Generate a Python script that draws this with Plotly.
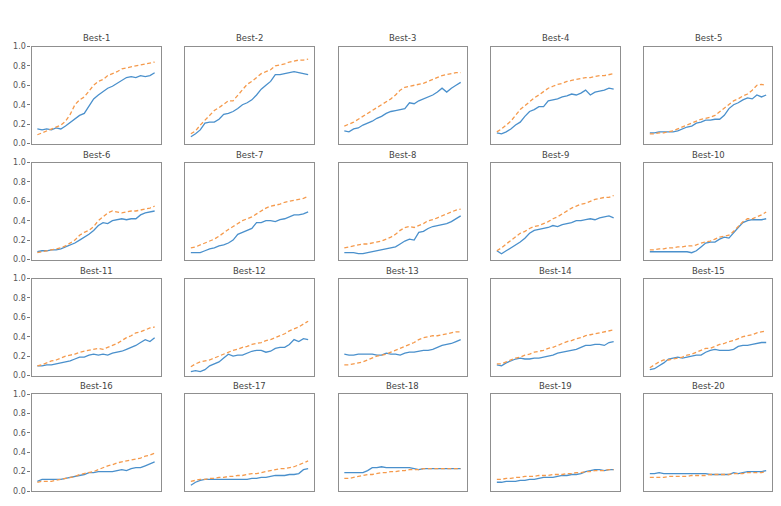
import plotly.graph_objects as go

titles = [f"Best-{i}" for i in range(1, 21)]

blue = [
    [0.15,0.14,0.15,0.14,0.16,0.15,0.18,0.22,0.26,0.29,0.31,0.38,0.46,0.50,0.54,0.57,0.59,0.62,0.65,0.68,0.69,0.68,0.70,0.69,0.70,0.73],
    [0.07,0.10,0.14,0.21,0.22,0.22,0.25,0.30,0.31,0.33,0.36,0.40,0.42,0.45,0.50,0.56,0.60,0.64,0.71,0.71,0.72,0.73,0.74,0.73,0.72,0.71],
    [0.13,0.12,0.15,0.16,0.19,0.21,0.23,0.26,0.28,0.31,0.33,0.34,0.35,0.36,0.42,0.41,0.44,0.46,0.48,0.50,0.53,0.57,0.53,0.57,0.60,0.63],
    [0.11,0.10,0.12,0.15,0.19,0.22,0.28,0.33,0.35,0.38,0.38,0.44,0.45,0.46,0.48,0.49,0.51,0.50,0.52,0.55,0.50,0.53,0.54,0.55,0.57,0.56],
    [0.11,0.11,0.12,0.12,0.12,0.12,0.13,0.15,0.17,0.18,0.21,0.22,0.24,0.24,0.25,0.25,0.29,0.36,0.40,0.42,0.45,0.47,0.46,0.50,0.48,0.50],
    [0.08,0.09,0.09,0.10,0.10,0.11,0.13,0.15,0.17,0.20,0.23,0.26,0.30,0.35,0.38,0.37,0.40,0.41,0.42,0.41,0.42,0.42,0.46,0.48,0.49,0.50],
    [0.07,0.07,0.07,0.09,0.11,0.12,0.14,0.15,0.17,0.20,0.26,0.28,0.30,0.32,0.38,0.38,0.40,0.40,0.39,0.41,0.42,0.44,0.46,0.46,0.47,0.49],
    [0.07,0.07,0.07,0.06,0.06,0.07,0.08,0.09,0.10,0.11,0.12,0.13,0.16,0.19,0.21,0.20,0.28,0.29,0.32,0.34,0.35,0.36,0.37,0.39,0.42,0.45],
    [0.09,0.06,0.09,0.12,0.15,0.18,0.22,0.27,0.30,0.31,0.32,0.33,0.35,0.34,0.36,0.37,0.38,0.40,0.40,0.41,0.42,0.41,0.43,0.44,0.45,0.43],
    [0.08,0.08,0.08,0.08,0.08,0.08,0.08,0.08,0.08,0.07,0.09,0.13,0.17,0.18,0.18,0.21,0.23,0.22,0.28,0.33,0.38,0.40,0.41,0.41,0.41,0.42],
    [0.10,0.10,0.11,0.11,0.12,0.13,0.14,0.15,0.17,0.19,0.19,0.21,0.22,0.21,0.22,0.21,0.23,0.24,0.25,0.27,0.29,0.31,0.34,0.37,0.35,0.39],
    [0.04,0.05,0.04,0.06,0.10,0.12,0.14,0.18,0.22,0.20,0.21,0.21,0.23,0.25,0.26,0.26,0.24,0.25,0.28,0.29,0.29,0.32,0.37,0.35,0.38,0.37],
    [0.22,0.21,0.21,0.22,0.22,0.22,0.22,0.21,0.21,0.23,0.22,0.22,0.21,0.23,0.24,0.24,0.25,0.26,0.26,0.27,0.29,0.31,0.32,0.33,0.35,0.37],
    [0.11,0.10,0.13,0.15,0.17,0.18,0.17,0.17,0.18,0.18,0.19,0.20,0.21,0.23,0.24,0.25,0.26,0.27,0.29,0.31,0.31,0.32,0.32,0.31,0.34,0.35],
    [0.06,0.07,0.10,0.13,0.17,0.18,0.19,0.18,0.19,0.20,0.21,0.21,0.24,0.26,0.27,0.26,0.26,0.26,0.27,0.30,0.31,0.31,0.32,0.33,0.34,0.34],
    [0.10,0.12,0.12,0.12,0.12,0.12,0.13,0.14,0.15,0.16,0.17,0.19,0.19,0.20,0.20,0.20,0.20,0.21,0.22,0.21,0.23,0.24,0.24,0.26,0.28,0.30],
    [0.06,0.09,0.11,0.12,0.12,0.12,0.12,0.12,0.12,0.12,0.12,0.12,0.12,0.13,0.13,0.14,0.14,0.15,0.16,0.16,0.16,0.17,0.17,0.18,0.22,0.23],
    [0.19,0.19,0.19,0.19,0.19,0.21,0.24,0.24,0.25,0.24,0.24,0.24,0.24,0.24,0.24,0.23,0.22,0.23,0.23,0.23,0.23,0.23,0.23,0.23,0.23,0.23],
    [0.09,0.09,0.10,0.10,0.10,0.11,0.11,0.12,0.12,0.13,0.14,0.14,0.14,0.15,0.16,0.16,0.17,0.17,0.18,0.20,0.21,0.22,0.22,0.21,0.22,0.22],
    [0.18,0.18,0.19,0.18,0.18,0.18,0.18,0.18,0.18,0.18,0.18,0.18,0.18,0.17,0.17,0.17,0.17,0.17,0.19,0.18,0.19,0.20,0.20,0.20,0.20,0.21],
]

orange = [
    [0.09,0.11,0.13,0.15,0.17,0.19,0.23,0.30,0.40,0.45,0.48,0.54,0.60,0.64,0.66,0.70,0.72,0.74,0.77,0.78,0.79,0.80,0.81,0.82,0.83,0.84],
    [0.10,0.13,0.19,0.24,0.30,0.34,0.37,0.41,0.44,0.44,0.50,0.55,0.61,0.64,0.68,0.72,0.74,0.76,0.80,0.81,0.82,0.84,0.85,0.86,0.86,0.87],
    [0.18,0.20,0.22,0.25,0.28,0.31,0.34,0.37,0.40,0.43,0.46,0.50,0.55,0.58,0.59,0.60,0.61,0.62,0.64,0.66,0.68,0.70,0.71,0.72,0.73,0.73],
    [0.12,0.15,0.19,0.23,0.29,0.35,0.39,0.43,0.47,0.50,0.54,0.57,0.59,0.61,0.62,0.64,0.65,0.66,0.67,0.68,0.68,0.69,0.70,0.70,0.71,0.72],
    [0.10,0.10,0.11,0.11,0.12,0.13,0.15,0.17,0.19,0.21,0.23,0.25,0.26,0.27,0.29,0.33,0.37,0.40,0.44,0.46,0.49,0.51,0.55,0.60,0.61,0.60],
    [0.07,0.08,0.09,0.10,0.11,0.12,0.14,0.17,0.20,0.25,0.28,0.30,0.34,0.40,0.44,0.48,0.50,0.49,0.48,0.49,0.50,0.50,0.51,0.52,0.53,0.55],
    [0.12,0.13,0.15,0.17,0.19,0.21,0.24,0.28,0.31,0.34,0.37,0.40,0.42,0.44,0.47,0.50,0.53,0.55,0.56,0.57,0.59,0.60,0.61,0.62,0.63,0.65],
    [0.12,0.13,0.14,0.15,0.16,0.16,0.17,0.18,0.19,0.21,0.23,0.26,0.30,0.33,0.34,0.33,0.35,0.37,0.40,0.41,0.43,0.45,0.47,0.49,0.51,0.52],
    [0.09,0.12,0.16,0.20,0.24,0.27,0.29,0.32,0.34,0.35,0.37,0.39,0.42,0.44,0.47,0.50,0.53,0.55,0.57,0.58,0.60,0.62,0.63,0.64,0.64,0.66],
    [0.10,0.10,0.11,0.11,0.12,0.12,0.13,0.13,0.14,0.14,0.15,0.17,0.18,0.19,0.21,0.23,0.24,0.25,0.29,0.34,0.39,0.42,0.42,0.44,0.46,0.49],
    [0.10,0.11,0.13,0.15,0.16,0.18,0.20,0.21,0.22,0.24,0.25,0.26,0.27,0.28,0.27,0.29,0.31,0.33,0.36,0.39,0.41,0.44,0.45,0.47,0.49,0.50],
    [0.09,0.12,0.14,0.15,0.16,0.18,0.20,0.22,0.24,0.26,0.27,0.29,0.30,0.32,0.33,0.34,0.36,0.37,0.39,0.41,0.43,0.46,0.48,0.50,0.53,0.56],
    [0.11,0.11,0.12,0.13,0.14,0.16,0.18,0.20,0.21,0.22,0.24,0.26,0.28,0.30,0.32,0.34,0.37,0.39,0.40,0.41,0.41,0.42,0.43,0.44,0.45,0.45],
    [0.12,0.12,0.14,0.16,0.18,0.19,0.21,0.22,0.24,0.25,0.26,0.28,0.29,0.31,0.33,0.35,0.36,0.38,0.39,0.41,0.42,0.43,0.44,0.45,0.46,0.47],
    [0.08,0.11,0.14,0.16,0.16,0.17,0.18,0.19,0.21,0.22,0.24,0.26,0.28,0.28,0.30,0.32,0.33,0.35,0.36,0.38,0.40,0.41,0.42,0.44,0.45,0.46],
    [0.09,0.10,0.10,0.10,0.11,0.12,0.13,0.14,0.15,0.17,0.18,0.19,0.20,0.22,0.24,0.26,0.27,0.29,0.30,0.31,0.32,0.33,0.34,0.36,0.37,0.39],
    [0.10,0.11,0.12,0.12,0.13,0.13,0.14,0.14,0.15,0.15,0.16,0.16,0.17,0.18,0.18,0.19,0.20,0.21,0.22,0.23,0.23,0.24,0.25,0.27,0.29,0.31],
    [0.13,0.13,0.14,0.15,0.16,0.17,0.17,0.18,0.19,0.19,0.20,0.20,0.21,0.21,0.22,0.22,0.22,0.23,0.23,0.23,0.23,0.23,0.23,0.23,0.23,0.23],
    [0.12,0.12,0.13,0.13,0.14,0.14,0.15,0.15,0.15,0.16,0.16,0.16,0.17,0.17,0.17,0.18,0.18,0.19,0.19,0.20,0.20,0.21,0.21,0.21,0.22,0.22],
    [0.14,0.14,0.14,0.14,0.15,0.15,0.15,0.15,0.15,0.16,0.16,0.16,0.16,0.17,0.17,0.17,0.17,0.17,0.18,0.18,0.18,0.19,0.19,0.19,0.19,0.20],
]

y_ticks = [0.0, 0.2, 0.4, 0.6, 0.8, 1.0]
y_tick_text = ["0.0", "0.2", "0.4", "0.6", "0.8", "1.0"]

# page body has an 8px margin; figure size is the window minus that margin
OFF = 8
W, H = 781 - 2 * OFF, 506 - 2 * OFF
col_px = [(31.5, 160.5), (185, 314), (338.5, 466.5), (491, 619.5), (644, 772)]
row_px = [(46.5, 143.5), (162.5, 259.5), (278.5, 375.5), (394, 491)]

FRAME = "#8f8f8f"
BLUE = "#4a90cc"
ORANGE = "#f59a4c"

fig = go.Figure()
annotations = []
for i in range(20):
    r, c = divmod(i, 5)
    k = i + 1
    xa = "x" if k == 1 else f"x{k}"
    ya = "y" if k == 1 else f"y{k}"
    n = len(blue[i])
    fig.add_trace(go.Scatter(x=list(range(n)), y=blue[i], mode="lines", xaxis=xa, yaxis=ya,
                             line=dict(color=BLUE, width=1.3), showlegend=False, hoverinfo="skip"))
    fig.add_trace(go.Scatter(x=list(range(len(orange[i]))), y=orange[i], mode="lines", xaxis=xa, yaxis=ya,
                             line=dict(color=ORANGE, width=1.3, dash="4px,2.5px"), showlegend=False, hoverinfo="skip"))
    x0, x1 = col_px[c]
    y0, y1 = row_px[r]
    xdom = [(x0 - OFF) / W, min(1.0, (x1 - OFF) / W)]
    ydom = [max(0.0, 1 - (y1 - OFF) / H), 1 - (y0 - OFF) / H]
    pad = 0.05 * (n - 1)
    xname = "xaxis" if k == 1 else f"xaxis{k}"
    yname = "yaxis" if k == 1 else f"yaxis{k}"
    fig.layout[xname] = dict(domain=xdom, anchor=ya, range=[-pad, n - 1 + pad],
                             showticklabels=False, ticks="", showgrid=False, zeroline=False,
                             showline=True, mirror=True, linecolor=FRAME, linewidth=1.2)
    yax = dict(domain=ydom, anchor=xa, range=[0, 1], showgrid=False, zeroline=False,
               showline=True, mirror=True, linecolor=FRAME, linewidth=1.2, automargin=False)
    if c == 0:
        yax.update(tickvals=y_ticks, ticktext=y_tick_text, ticks="outside", ticklen=3,
                   tickcolor="#777", tickwidth=1, showticklabels=True,
                   tickfont=dict(family="DejaVu Sans", size=8, color="#555"))
    else:
        yax.update(showticklabels=False, ticks="")
    fig.layout[yname] = yax
    annotations.append(dict(text=titles[i], x=(xdom[0] + xdom[1]) / 2, y=ydom[1],
                            xref="paper", yref="paper", xanchor="center", yanchor="bottom",
                            yshift=1, showarrow=False,
                            font=dict(family="DejaVu Sans", size=8.5, color="#444")))

fig.update_layout(width=W, height=H, margin=dict(l=0, r=0, t=0, b=0),
                  paper_bgcolor="white", plot_bgcolor="white", annotations=annotations)

fig.write_html("out.html")
